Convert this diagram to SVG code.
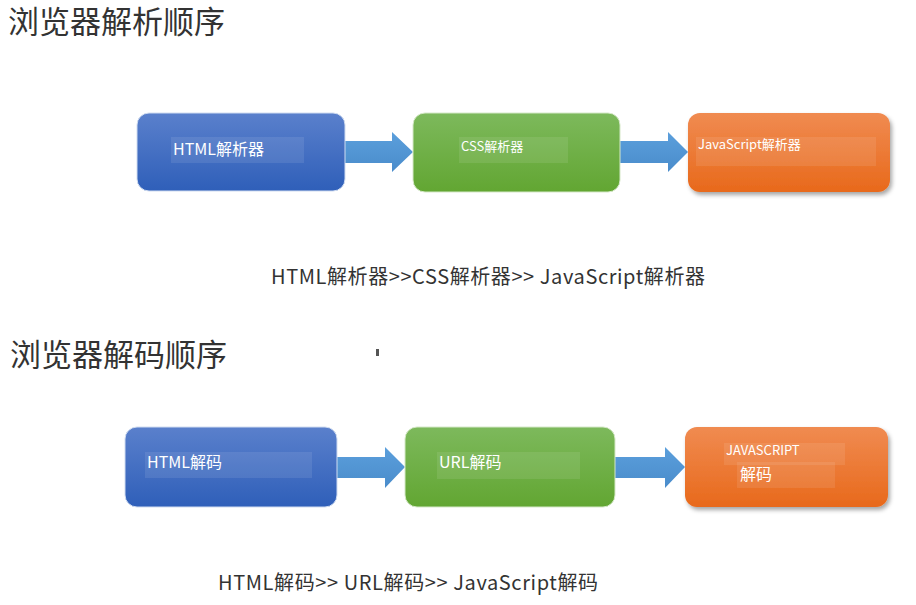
<svg xmlns="http://www.w3.org/2000/svg" width="916" height="605" viewBox="0 0 916 605">
<defs>
<linearGradient id="gBlue" x1="0" y1="0" x2="0" y2="1"><stop offset="0" stop-color="#5a80cc"/><stop offset="1" stop-color="#2f5fb9"/></linearGradient>
<linearGradient id="gGreen" x1="0" y1="0" x2="0" y2="1"><stop offset="0" stop-color="#7db95c"/><stop offset="1" stop-color="#62a632"/></linearGradient>
<linearGradient id="gOrange" x1="0" y1="0" x2="0" y2="1"><stop offset="0" stop-color="#f08b51"/><stop offset="1" stop-color="#e8691b"/></linearGradient>
<linearGradient id="gArrow" x1="0" y1="0" x2="0" y2="1"><stop offset="0" stop-color="#5b9fdc"/><stop offset="1" stop-color="#4a8ccb"/></linearGradient>
<filter id="shadow" x="-10%" y="-10%" width="125%" height="135%"><feDropShadow dx="2" dy="3" stdDeviation="2" flood-color="#000" flood-opacity="0.35"/></filter>
<style>
.title{font-family:"Noto Sans CJK SC","Noto Sans",sans-serif;font-size:31px;fill:#333}
.cap{font-family:"Noto Sans CJK SC","Noto Sans",sans-serif;font-size:20px;fill:#333}
.lbl{font-family:"Noto Sans CJK SC","Noto Sans",sans-serif;fill:#fff}
.hl{fill:#fff;fill-opacity:0.09}
.blue{fill:url(#gBlue);stroke:#d0dcf0;stroke-width:1}
.green{fill:url(#gGreen);stroke:#d5e8c8;stroke-width:1}
.orange{fill:url(#gOrange);filter:url(#shadow)}
.arrow{fill:url(#gArrow)}
</style>
</defs>
<text class="title" x="8" y="33">浏览器解析顺序</text>
<text class="title" x="10" y="366">浏览器解码顺序</text>
<rect x="376" y="349" width="3" height="7" fill="#555"/>

<g id="connectors">
<polygon class="arrow" points="345,141 392,141 392,132 413,152 392,172 392,163 345,163"/>
<polygon class="arrow" points="620,141 668,141 668,132 688,152 668,172 668,163 620,163"/>
<polygon class="arrow" points="337,457 385,457 385,447 405,467 385,488 385,478 337,478"/>
<polygon class="arrow" points="615,457 665,457 665,447 685,467 665,488 665,478 615,478"/>
</g>

<g id="html-parser">
<rect class="blue" x="137" y="113" width="208" height="78" rx="12"/>
<rect class="hl" x="171" y="137" width="133" height="26"/>
<text class="lbl" x="173" y="155" font-size="16">HTML解析器</text>
</g>
<g id="css-parser">
<rect class="green" x="413" y="113" width="207" height="79" rx="12"/>
<rect class="hl" x="459" y="137" width="109" height="26"/>
<text class="lbl" x="461" y="151" font-size="13">CSS解析器</text>
</g>
<g id="js-parser">
<rect class="orange" x="688" y="113" width="202" height="79" rx="12"/>
<rect class="hl" x="696" y="137" width="180" height="29"/>
<text class="lbl" x="698" y="149" font-size="13">JavaScript解析器</text>
</g>

<g id="html-decode">
<rect class="blue" x="125" y="427" width="212" height="80" rx="12"/>
<rect class="hl" x="145" y="452" width="167" height="26"/>
<text class="lbl" x="147" y="468" font-size="16">HTML解码</text>
</g>
<g id="url-decode">
<rect class="green" x="405" y="427" width="210" height="80" rx="12"/>
<rect class="hl" x="437" y="452" width="143" height="27"/>
<text class="lbl" x="439" y="468" font-size="16">URL解码</text>
</g>
<g id="js-decode">
<rect class="orange" x="685" y="427" width="203" height="80" rx="12"/>
<rect class="hl" x="724" y="443" width="121" height="22"/>
<text class="lbl" x="726" y="455" font-size="13">JAVASCRIPT</text>
<rect class="hl" x="737" y="462" width="98" height="26"/>
<text class="lbl" x="740" y="480" font-size="16">解码</text>
</g>

<text class="cap" x="271" y="284" textLength="434" lengthAdjust="spacing">HTML解析器&gt;&gt;CSS解析器&gt;&gt; JavaScript解析器</text>
<text class="cap" x="218" y="590" textLength="380" lengthAdjust="spacing">HTML解码&gt;&gt; URL解码&gt;&gt; JavaScript解码</text>
</svg>
